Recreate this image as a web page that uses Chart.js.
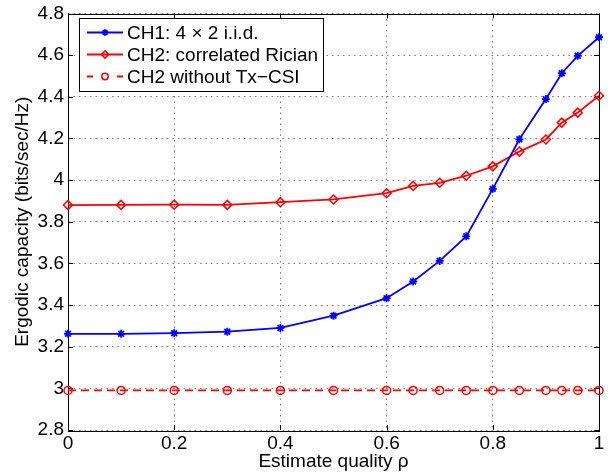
<!DOCTYPE html>
<html>
<head>
<meta charset="utf-8">
<script src="https://cdn.jsdelivr.net/npm/chart.js@4/dist/chart.umd.min.js"></script>
<style>
  html, body { margin: 0; padding: 0; background: #fff; }
  #wrap { width: 613px; height: 473px; }
</style>
</head>
<body>
<div id="wrap"><canvas id="cap"></canvas></div>
<script>
// estimate quality rho
const rho = [0, 0.1, 0.2, 0.3, 0.4, 0.5, 0.6, 0.65, 0.7, 0.75, 0.8, 0.85, 0.9, 0.93, 0.96, 1];
// ergodic capacity (bits/sec/Hz)
const ch1Iid = [3.262, 3.262, 3.265, 3.272, 3.29, 3.349, 3.433, 3.513, 3.612, 3.73, 3.958, 4.196, 4.389, 4.513, 4.597, 4.686];
const ch2Rician = [3.880, 3.881, 3.882, 3.881, 3.894, 3.907, 3.937, 3.972, 3.987, 4.021, 4.066, 4.137, 4.195, 4.276, 4.324, 4.405];
const ch2NoCsi = [2.99, 2.99, 2.99, 2.99, 2.99, 2.99, 2.99, 2.99, 2.99, 2.99, 2.99, 2.99, 2.99, 2.99, 2.99, 2.99];

const seriesNames = ['CH1: 4 \u00d7 2 i.i.d.', 'CH2: correlated Rician', 'CH2 without Tx\u2212CSI'];
const xTicks = [0, 0.2, 0.4, 0.6, 0.8, 1];
const xTickLabels = ['0', '0.2', '0.4', '0.6', '0.8', '1'];
const yTicks = [2.8, 3, 3.2, 3.4, 3.6, 3.8, 4, 4.2, 4.4, 4.6, 4.8];
const yTickLabels = ['2.8', '3', '3.2', '3.4', '3.6', '3.8', '4', '4.2', '4.4', '4.6', '4.8'];

const FONT = "'Liberation Sans', Arial, Helvetica, sans-serif";
const BLUE = '#0000ff';
const RED = '#ff0000';

const pts = (ys) => rho.map((x, i) => ({ x: x, y: ys[i] }));

// matlab style box with inward ticks
const axesBox = {
  id: 'axesBox',
  beforeDatasetsDraw(chart) {
    const { ctx, chartArea: a, scales } = chart;
    ctx.save();
    ctx.strokeStyle = '#000';
    ctx.lineWidth = 1;
    ctx.beginPath();
    xTicks.forEach(v => {
      const px = Math.round(scales.x.getPixelForValue(v)) + 0.5;
      ctx.moveTo(px, a.bottom); ctx.lineTo(px, a.bottom - 5);
      ctx.moveTo(px, a.top); ctx.lineTo(px, a.top + 5);
    });
    yTicks.forEach(v => {
      const py = Math.round(scales.y.getPixelForValue(v)) + 0.5;
      ctx.moveTo(a.left, py); ctx.lineTo(a.left + 5, py);
      ctx.moveTo(a.right, py); ctx.lineTo(a.right - 5, py);
    });
    ctx.stroke();
    ctx.strokeRect(Math.round(a.left) + 0.5, Math.round(a.top) + 0.5,
      Math.round(a.right - a.left), Math.round(a.bottom - a.top));
    ctx.restore();
  }
};

const boxLegend = {
  id: 'boxLegend',
  afterDraw(chart) {
    const ctx = chart.ctx;
    const bx = 79.5, by = 18.5, bw = 244, bh = 73;
    const rows = [32.5, 54.5, 76.5];
    ctx.save();
    ctx.fillStyle = '#fff';
    ctx.fillRect(bx, by, bw, bh);
    ctx.strokeStyle = '#000';
    ctx.lineWidth = 1;
    ctx.strokeRect(bx, by, bw, bh);
    chart.data.datasets.forEach((ds, i) => {
      const y = rows[i];
      ctx.strokeStyle = ds.borderColor;
      ctx.lineWidth = ds.borderWidth;
      ctx.setLineDash(i === 2 ? [6, 24] : []);
      ctx.beginPath();
      ctx.moveTo(87, y); ctx.lineTo(123, y);
      ctx.stroke();
      ctx.setLineDash([]);
      ctx.fillStyle = ds.pointBackgroundColor;
      ctx.lineWidth = ds.pointBorderWidth;
      Chart.helpers.drawPoint(ctx, {
        pointStyle: ds.pointStyle, radius: ds.pointRadius * 0.8, rotation: 0, borderWidth: ds.pointBorderWidth
      }, 105, y);
      ctx.fillStyle = '#000';
      ctx.font = '19px ' + FONT;
      ctx.textBaseline = 'middle';
      ctx.fillText(seriesNames[i], 127, y + 1);
    });
    ctx.restore();
  }
};

const ctx = document.getElementById('cap');
new Chart(ctx, {
  type: 'line',
  data: {
    datasets: [
      {
        label: seriesNames[0], data: pts(ch1Iid),
        borderColor: BLUE, borderWidth: 1.8,
        pointStyle: 'star', pointRadius: 4, pointBorderWidth: 1.8,
        pointBorderColor: BLUE, pointBackgroundColor: BLUE, clip: false
      },
      {
        label: seriesNames[1], data: pts(ch2Rician),
        borderColor: RED, borderWidth: 1.8,
        pointStyle: 'rectRot', pointRadius: 4.5, pointBorderWidth: 1.5,
        pointBorderColor: RED, pointBackgroundColor: 'rgba(0,0,0,0)', clip: false
      },
      {
        label: seriesNames[2], data: pts(ch2NoCsi),
        borderColor: RED, borderWidth: 1.8, borderDash: [8, 5],
        pointStyle: 'circle', pointRadius: 4, pointBorderWidth: 1.5,
        pointBorderColor: RED, pointBackgroundColor: 'rgba(0,0,0,0)', clip: false
      }
    ]
  },
  options: {
    responsive: true,
    maintainAspectRatio: false,
    animation: false,
    layout: { padding: { top: 10, right: 14, left: 0, bottom: 0 } },
    plugins: { legend: { display: false }, tooltip: { enabled: false } },
    scales: {
      x: {
        type: 'linear', min: 0, max: 1,
        afterBuildTicks: (s) => { s.ticks = xTicks.map(v => ({ value: v })); },
        afterFit: (s) => { s.height = 43; },
        ticks: {
          color: '#000', padding: 4, maxRotation: 0,
          font: { family: FONT, size: 19, lineHeight: 1 },
          callback: (v, i) => xTickLabels[i]
        },
        grid: { color: 'rgba(0,0,0,0.5)', drawTicks: false },
        border: { display: false, dash: [1.5, 4] },
        title: {
          display: true, text: 'Estimate quality \u03c1', color: '#000',
          font: { family: FONT, size: 19 }, padding: { top: 0, bottom: 0 }
        }
      },
      y: {
        type: 'linear', min: 2.8, max: 4.8,
        afterBuildTicks: (s) => { s.ticks = yTicks.map(v => ({ value: v })); },
        afterFit: (s) => { s.width = 68; },
        ticks: {
          color: '#000', padding: 4,
          font: { family: FONT, size: 19, lineHeight: 1 },
          callback: (v, i) => yTickLabels[i]
        },
        grid: { color: 'rgba(0,0,0,0.5)', drawTicks: false },
        border: { display: false, dash: [1.5, 4] },
        title: {
          display: true, text: 'Ergodic capacity (bits/sec/Hz)', color: '#000',
          font: { family: FONT, size: 19 }, padding: { top: 11, bottom: 0 }
        }
      }
    }
  },
  plugins: [axesBox, boxLegend]
});
</script>
</body>
</html>
